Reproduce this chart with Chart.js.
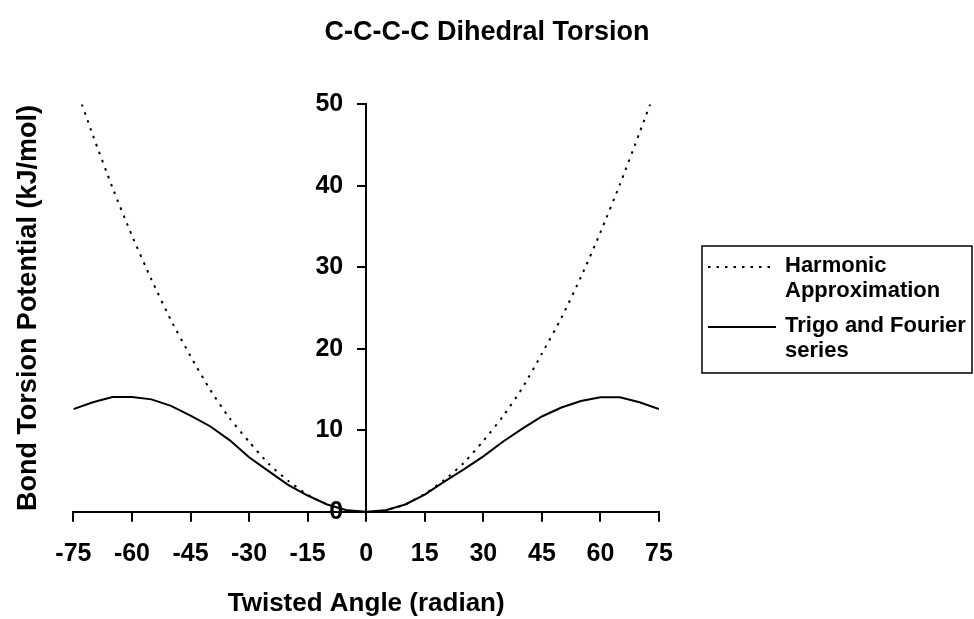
<!DOCTYPE html>
<html>
<head>
<meta charset="utf-8">
<script src="https://cdn.jsdelivr.net/npm/chart.js@4.4.0/dist/chart.umd.min.js"></script>
<style>
  html, body { margin: 0; padding: 0; background: #fff; }
  #wrap { width: 974px; height: 619px; }
</style>
</head>
<body>
<div id="wrap"><canvas id="chart"></canvas></div>
<script>
// twisted angle (x) and the two potentials
var angles = [-75, -70, -65, -60, -55, -50, -45, -40, -35, -30, -25, -20, -15, -10, -5, 0,
              5, 10, 15, 20, 25, 30, 35, 40, 45, 50, 55, 60, 65, 70, 75];
var harmonic = [53.0, 46.2, 39.8, 33.9, 28.5, 23.5, 19.1, 15.0, 11.5, 8.6, 5.9, 3.8, 2.1, 0.9, 0.2, 0,
                0.2, 0.9, 2.2, 3.9, 6.0, 8.7, 11.7, 15.2, 19.4, 23.8, 28.8, 34.3, 40.2, 46.5, 53.0];
var fourier = [12.6, 13.45, 14.1, 14.1, 13.8, 13.0, 11.8, 10.5, 8.8, 6.7, 5.0, 3.3, 2.0, 0.9, 0.2, 0,
               0.2, 0.9, 2.1, 3.7, 5.2, 6.8, 8.6, 10.2, 11.7, 12.8, 13.6, 14.05, 14.05, 13.45, 12.6];
var seriesNames = ['Harmonic Approximation', 'Trigo and Fourier series'];
var legendLines = [['Harmonic', 'Approximation'], ['Trigo and Fourier', 'series']];

var FONT = '"Liberation Sans", Arial, sans-serif';
Chart.defaults.font.family = FONT;
Chart.defaults.color = '#000';

function toPoints(xs, ys) {
    return xs.map(function(x, i) { return {x: x, y: ys[i]}; });
}

// boxed legend at the right, labels wrapped on two lines
var boxLegend = {
    id: 'boxLegend',
    afterDraw: function(chart) {
        var ctx = chart.ctx;
        ctx.save();
        ctx.strokeStyle = '#000';
        ctx.lineWidth = 1.5;
        ctx.setLineDash([]);
        ctx.strokeRect(702, 246, 270, 127);
        ctx.font = 'bold 22px ' + FONT;
        ctx.fillStyle = '#000';
        ctx.textBaseline = 'alphabetic';
        chart.data.datasets.forEach(function(ds, i) {
            var base = 272 + i * 60;
            ctx.lineWidth = ds.borderWidth;
            ctx.setLineDash(ds.borderDash || []);
            ctx.beginPath();
            ctx.moveTo(708, base - 5);
            ctx.lineTo(776, base - 5);
            ctx.stroke();
            ctx.setLineDash([]);
            legendLines[i].forEach(function(t, j) {
                ctx.fillText(t, 785, base + j * 25);
            });
        });
        ctx.restore();
    }
};

// empty side axes only reserve room (left one carries the y title)
function blankAxis(pos) {
    return {
        type: 'linear',
        position: pos,
        ticks: { display: false },
        grid: { display: false },
        border: { display: false }
    };
}
var yTitleAxis = blankAxis('left');
yTitleAxis.title = { display: true, text: 'Bond Torsion Potential (kJ/mol)',
                     font: { size: 27, weight: 'bold' }, padding: { top: 12, bottom: 21 } };
var legendRoom = blankAxis('right');
legendRoom.afterFit = function(scale) { scale.width = 315; };

var ctx = document.getElementById('chart').getContext('2d');
var chart = new Chart(ctx, {
    type: 'line',
    data: {
        datasets: [{
            label: seriesNames[0],
            data: toPoints(angles, harmonic),
            borderColor: '#000',
            borderWidth: 2,
            borderDash: [2.5, 6],
            pointRadius: 0,
            tension: 0.2,
            yAxisID: 'y'
        }, {
            label: seriesNames[1],
            data: toPoints(angles, fourier),
            borderColor: '#000',
            borderWidth: 2,
            pointRadius: 0,
            tension: 0,
            yAxisID: 'y'
        }]
    },
    options: {
        responsive: true,
        maintainAspectRatio: false,
        animation: false,
        layout: { padding: 0 },
        plugins: {
            legend: { display: false },
            tooltip: { enabled: false },
            title: {
                display: true,
                text: 'C-C-C-C Dihedral Torsion',
                font: { size: 27, weight: 'bold' },
                padding: { top: 16, bottom: 56 }
            }
        },
        scales: {
            x: {
                type: 'linear',
                position: 'bottom',
                min: -75,
                max: 75,
                ticks: { stepSize: 15, autoSkip: false, maxRotation: 0, padding: 17,
                         font: { size: 25, weight: 'bold' } },
                grid: { drawOnChartArea: false, tickLength: 10, color: '#000', lineWidth: 2 },
                border: { color: '#000', width: 2 },
                title: { display: true, text: 'Twisted Angle (radian)',
                         font: { size: 26, weight: 'bold' }, padding: { top: 2, bottom: 0 } }
            },
            // x range is symmetric, so the centred axis sits at angle 0
            y: {
                type: 'linear',
                position: 'center',
                min: 0,
                max: 50,
                ticks: { stepSize: 10, padding: 15, font: { size: 25, weight: 'bold' } },
                grid: { drawOnChartArea: false, tickLength: 8, color: '#000', lineWidth: 2 },
                border: { color: '#000', width: 2 },
                afterFit: function(scale) { scale.width = 0; }
            },
            yt: yTitleAxis,
            yr: legendRoom
        }
    },
    plugins: [boxLegend]
});
</script>
</body>
</html>
